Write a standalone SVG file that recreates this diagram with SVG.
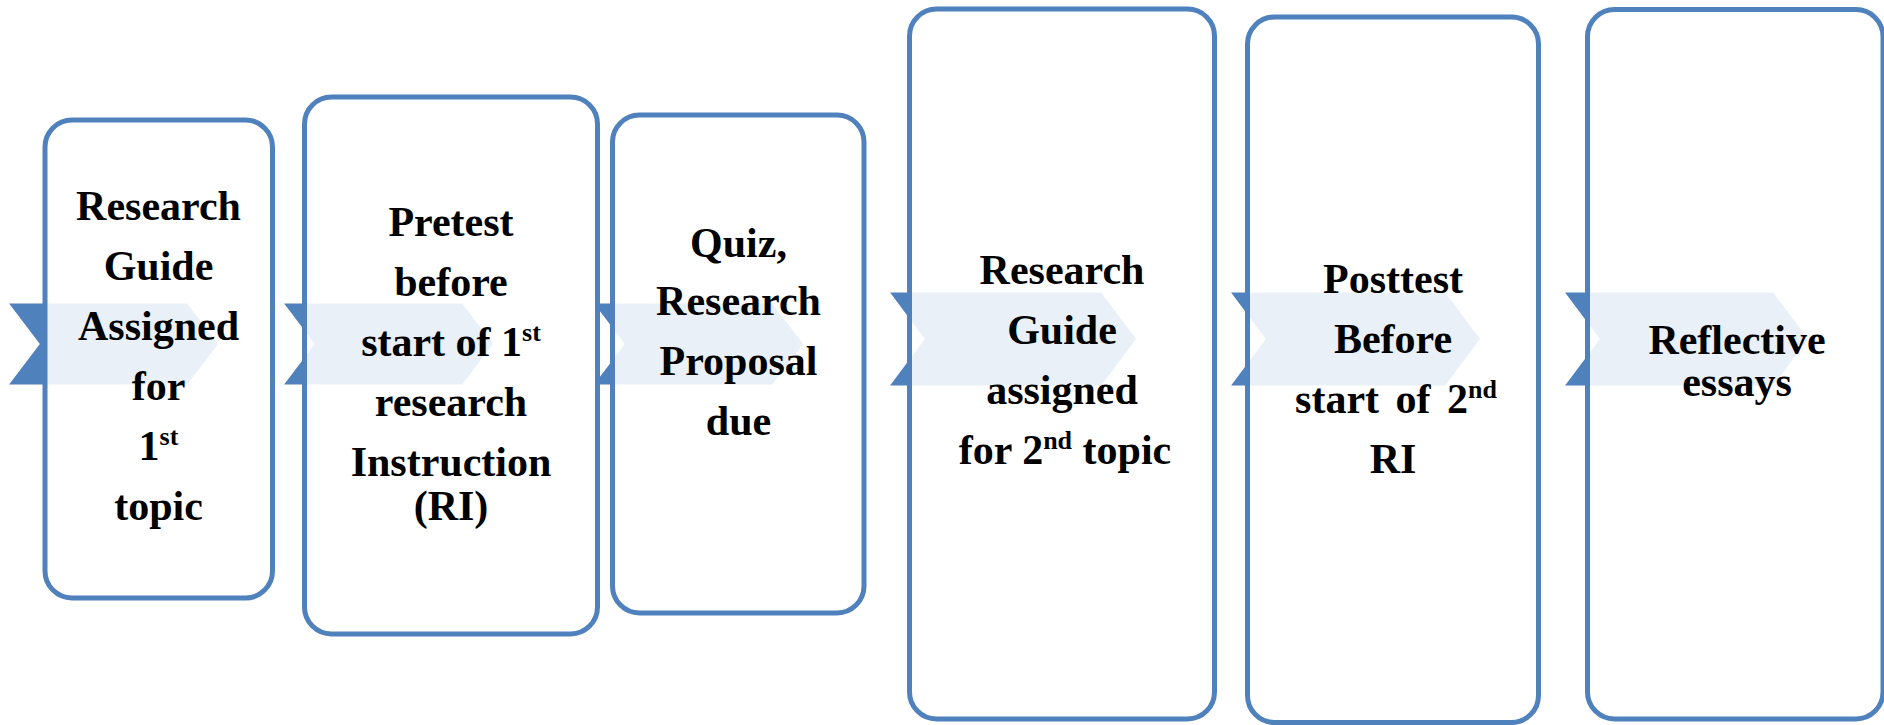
<svg xmlns="http://www.w3.org/2000/svg" width="1884" height="725" viewBox="0 0 1884 725">
  <style>
    .chev { fill: #4F81BD; stroke: #FFFFFF; stroke-width: 3; stroke-linejoin: miter; }
    .box { fill: #FFFFFF; fill-opacity: 0.88; stroke: #4F81BD; stroke-width: 5; }
    .lbl { font-family: "Liberation Serif", "Times New Roman", serif; font-weight: bold; font-size: 42px; fill: #000000; text-anchor: middle; }
    .sup { font-size: 26px; }
  </style>
  <rect width="1884" height="725" fill="#FFFFFF"/>

  <!-- chevron arrows running behind the step boxes -->
  <g id="connectors">
    <polygon class="chev" points="6,302 188,302 220,344 188,386 6,386 38,344"/>
    <polygon class="chev" points="281,302 463,302 495,344 463,386 281,386 313,344"/>
    <polygon class="chev" points="591,302 773,302 805,344 773,386 591,386 623,344"/>
    <polygon class="chev" points="887,291 1102,291 1138,339 1102,387 887,387 923,339"/>
    <polygon class="chev" points="1228,291 1446,291 1482,339 1446,387 1228,387 1264,339"/>
    <polygon class="chev" points="1562,291 1774,291 1810,339 1774,387 1562,387 1598,339"/>
  </g>

  <g id="step1">
    <rect class="box" x="45" y="120" width="227.5" height="478" rx="27" ry="27"/>
    <text class="lbl" x="158.5" y="220">Research</text>
    <text class="lbl" x="158.5" y="280">Guide</text>
    <text class="lbl" x="158.5" y="340">Assigned</text>
    <text class="lbl" x="158.5" y="400">for</text>
    <text class="lbl" x="158.5" y="460">1<tspan class="sup" dy="-15">st</tspan></text>
    <text class="lbl" x="158.5" y="520">topic</text>
  </g>

  <g id="step2">
    <rect class="box" x="304.5" y="97" width="293" height="537" rx="27" ry="27"/>
    <text class="lbl" x="451" y="236">Pretest</text>
    <text class="lbl" x="451" y="296">before</text>
    <text class="lbl" x="451" y="356">start of 1<tspan class="sup" dy="-15">st</tspan></text>
    <text class="lbl" x="451" y="416">research</text>
    <text class="lbl" x="451" y="476">Instruction</text>
    <text class="lbl" x="451" y="520">(RI)</text>
  </g>

  <g id="step3">
    <rect class="box" x="612.5" y="115" width="251.5" height="498" rx="27" ry="27"/>
    <text class="lbl" x="738.5" y="257">Quiz,</text>
    <text class="lbl" x="738.5" y="315">Research</text>
    <text class="lbl" x="738.5" y="375">Proposal</text>
    <text class="lbl" x="738.5" y="435">due</text>
  </g>

  <g id="step4">
    <rect class="box" x="909.5" y="9" width="305" height="710" rx="27" ry="27"/>
    <text class="lbl" x="1062" y="284">Research</text>
    <text class="lbl" x="1062" y="344">Guide</text>
    <text class="lbl" x="1062" y="404">assigned</text>
    <text class="lbl" x="1065" y="464">for 2<tspan class="sup" dy="-15">nd</tspan><tspan dy="15"> topic</tspan></text>
  </g>

  <g id="step5">
    <rect class="box" x="1247.5" y="17" width="291" height="705.5" rx="27" ry="27"/>
    <text class="lbl" x="1393" y="293">Posttest</text>
    <text class="lbl" x="1393" y="353">Before</text>
    <text class="lbl" x="1396" y="413" word-spacing="6">start of 2<tspan class="sup" dy="-15">nd</tspan></text>
    <text class="lbl" x="1393" y="473">RI</text>
  </g>

  <g id="step6">
    <rect class="box" x="1587.5" y="9.5" width="295.5" height="709.5" rx="27" ry="27"/>
    <text class="lbl" x="1737" y="354">Reflective</text>
    <text class="lbl" x="1737" y="396">essays</text>
  </g>
</svg>
